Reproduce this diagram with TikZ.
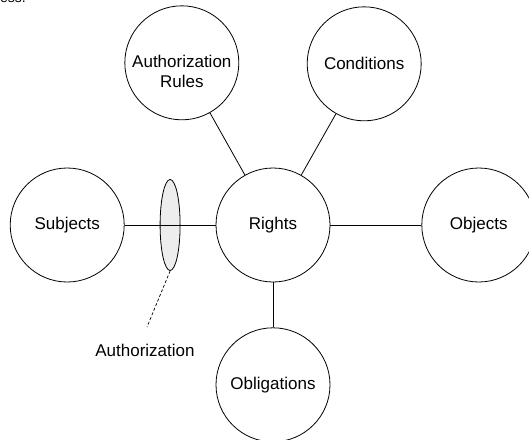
\documentclass[tikz,border=0pt]{standalone}
\usepackage{fontspec}
\setmainfont{Liberation Sans}
\usetikzlibrary{positioning,calc,shapes.geometric}

\begin{document}
\begin{tikzpicture}[
  x=1pt, y=1pt,
  node distance=91pt and 91pt,
  entity/.style={
    circle, draw, line width=0.8pt,
    align=center, font=\fontsize{17}{20}\selectfont,
    minimum size=114pt, inner sep=0pt
  },
  authshape/.style={
    ellipse, draw, line width=0.8pt,
    fill=black!7,
    minimum width=20pt, minimum height=91pt, inner sep=0pt
  },
  link/.style={line width=0.8pt},
  hint/.style={line width=0.7pt, dash pattern=on 3pt off 2pt}
]

\clip (0,0) rectangle (529,-439);

% =====================================================
% CENTRE
% =====================================================

\node[entity] (rights) at (273,-225) {Rights};

\node[entity, left=of rights] (subjects) {Subjects};
\node[entity, right=of rights] (objects) {Objects};
\node[entity, below=45pt of rights] (obligations) {Obligations};

% =====================================================
% TOP
% =====================================================

\node[entity, above left=81pt and 10pt of rights,
  text height=50pt, text depth=0pt] (authrules)
{Authorization\\Rules};

\node[entity, above right=80pt and 10pt of rights] (conditions)
{Conditions};

% =====================================================
% AUTHORIZATION
% =====================================================

\node[authshape] (authz) at ($(subjects.east)!0.5!(rights.west)$) {};

\node[font=\fontsize{17}{20}\selectfont] (authlabel) at (145,-350)
{Authorization};
\coordinate (authend) at (147,-327);

\draw[hint] (authz.south) -- (authend);

% =====================================================
% LINKS
% =====================================================

\draw[link] (subjects) -- (rights);
\draw[link] (rights) -- (objects);
\draw[link] (rights) -- (obligations);
\draw[link] (rights) -- (authrules);
\draw[link] (rights) -- (conditions);

% text cut off at the top edge
\node[anchor=base east, font=\fontsize{14}{16}\selectfont, inner sep=0pt]
  (cutoff) at (26,-2) {ess.};

\end{tikzpicture}
\end{document}
